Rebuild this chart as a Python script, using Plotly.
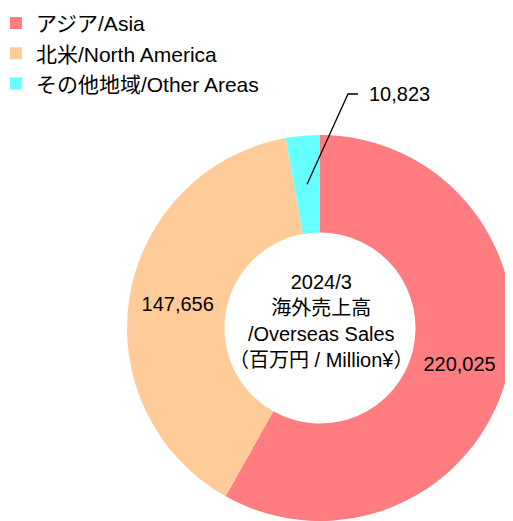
import math
import plotly.graph_objects as go

# ---- data ----
labels = ["アジア/Asia", "北米/North America", "その他地域/Other Areas"]
values = [220025, 147656, 10823]
colors = ["#FF7C80", "#FFCC99", "#66FFFF"]
center_lines = ["2024/3", "海外売上高", "/Overseas Sales", "（百万円 / Million¥）"]

# page body has an 8px margin; figure is sized to fill the remaining window
OFF = 8
W, H = 513 - OFF, 521 - OFF
FONT = "Liberation Sans, Arial, Noto Sans CJK JP, sans-serif"

R_px = 193
cx_fig = W - R_px
dom_x = [(cx_fig - R_px) / W, 1.0]
dom_y = [0.0, 2 * R_px / H]
hole = 0.495

texts = [f"{v:,}" for v in values[:2]] + [""]

fig = go.Figure(go.Pie(
    labels=labels,
    values=values,
    sort=False,
    direction="clockwise",
    rotation=0,
    hole=hole,
    marker=dict(colors=colors, line=dict(width=0)),
    text=texts,
    textinfo="text",
    textposition="inside",
    insidetextorientation="horizontal",
    textfont=dict(family=FONT, size=20, color="black"),
    hoverinfo="label+value",
    domain=dict(x=dom_x, y=dom_y),
))

# pie geometry in figure pixels (derived from the domain)
cx = (dom_x[0] + dom_x[1]) / 2 * W
cy = (1 - (dom_y[0] + dom_y[1]) / 2) * H
R = min((dom_x[1] - dom_x[0]) * W, (dom_y[1] - dom_y[0]) * H) / 2
r_mid = R * (1 + hole) / 2

total = sum(values)
start = sum(values[:2]) / total * 360
mid = start + values[2] / total * 360 / 2
px0 = cx + r_mid * math.sin(math.radians(mid))
py0 = cy - r_mid * math.cos(math.radians(mid))

def P(x, y):
    """figure pixel -> paper"""
    return x / W, 1 - y / H

lbl_x, lbl_y = 367 - OFF, 94 - OFF
kx, ky = lbl_x - 19, lbl_y
ex = lbl_x - 9
a = P(px0, py0); b = P(kx, ky); c = P(ex, ky)
fig.add_shape(type="path", xref="paper", yref="paper",
              path=f"M {a[0]},{a[1]} L {b[0]},{b[1]} L {c[0]},{c[1]}",
              line=dict(color="black", width=1.3))
fig.add_annotation(x=P(lbl_x, 0)[0], y=P(0, lbl_y)[1], xref="paper", yref="paper",
                   text=f"{values[2]:,}", showarrow=False, xanchor="left", yanchor="middle",
                   font=dict(family=FONT, size=20, color="black"))

fig.add_annotation(x=P(cx + 1, 0)[0], y=P(0, cy - 7)[1], xref="paper", yref="paper",
                   text="<br>".join(center_lines), showarrow=False,
                   xanchor="center", yanchor="middle", align="center",
                   font=dict(family=FONT, size=20, color="black"))

fig.update_layout(
    width=W, height=H,
    margin=dict(l=0, r=0, t=0, b=0, autoexpand=False),
    paper_bgcolor="white",
    showlegend=True,
    legend=dict(x=-0.024, y=1.01, xanchor="left", yanchor="top",
                font=dict(family=FONT, size=21, color="black"),
                bgcolor="rgba(0,0,0,0)", traceorder="normal"),
)

fig.write_html("out.html")
